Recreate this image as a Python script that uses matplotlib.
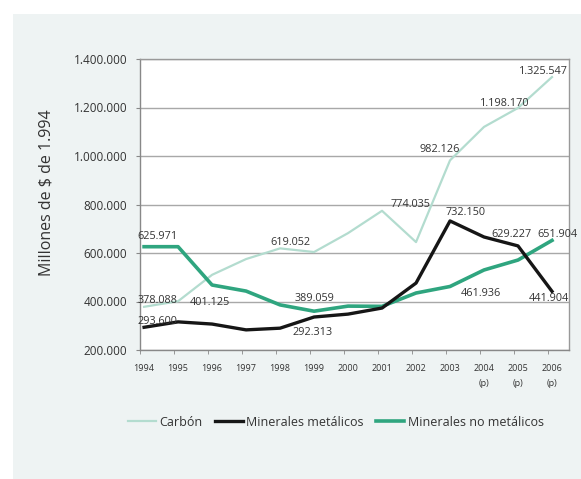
import numpy as np
import matplotlib.pyplot as plt
from matplotlib.patches import Rectangle
from matplotlib.ticker import FuncFormatter, FixedLocator

plt.rcParams['font.family'] = ['Open Sans', 'DejaVu Sans']

# data (millones de $ de 1994)
years = ["1994", "1995", "1996", "1997", "1998", "1999", "2000",
         "2001", "2002", "2003", "2004\n(p)", "2005\n(p)", "2006\n(p)"]
carbon = [378088, 401125, 510000, 575000, 619052, 604000, 682000,
          774035, 645000, 982126, 1120000, 1198170, 1325547]
metalicos = [293600, 316000, 307000, 283000, 290000, 336000, 348000,
             373000, 476000, 732150, 666000, 629227, 441904]
no_metalicos = [625971, 625971, 468000, 443000, 386000, 360000, 381000,
                380000, 435000, 461936, 530000, 571000, 651904]

# value labels: text, x (category index), y (value)
lbl_text = ["625.971", "378.088", "293.600", "401.125", "619.052", "389.059",
            "292.313", "774.035", "732.150", "982.126", "1.198.170",
            "1.325.547", "629.227", "651.904", "461.936", "441.904"]
lbl_x = [0.4, 0.4, 0.4, 1.95, 4.3, 5.0, 4.95, 7.85, 9.45, 8.7, 10.6,
         11.75, 10.8, 12.15, 9.9, 11.9]
lbl_y = [668000, 404000, 318000, 396000, 645000, 412000, 272000, 798000,
         765000, 1025000, 1218000, 1350000, 678000, 678000, 435000, 412000]

fig = plt.figure(figsize=(5.81, 4.79), dpi=100)
fig.patch.set_facecolor("white")
# light panel behind the chart
fig.patches.append(Rectangle((13 / 581, 0), 1, 1 - 14 / 479, transform=fig.transFigure,
                             facecolor="#eef3f3", edgecolor="none", zorder=-1))

ax = fig.add_axes([140 / 581, 1 - 350 / 479, 429 / 581, 291 / 479])
ax.set_facecolor("white")

x = np.arange(len(years))
ax.plot(x, carbon, color="#b3dccf", lw=1.6, label="Carbón", zorder=3)
ax.plot(x, metalicos, color="#161616", lw=2.4, label="Minerales metálicos", zorder=4)
ax.plot(x, no_metalicos, color="#2fa57f", lw=2.6, label="Minerales no metálicos", zorder=3)

for t, xx, yy in zip(lbl_text, lbl_x, lbl_y):
    ax.text(xx, yy, t, ha="center", va="center", fontsize=7.8, color="#333333", zorder=5)

ax.set_xlim(-0.12, 12.5)
ax.set_ylim(200000, 1400000)
ax.set_yticks(np.arange(200000, 1400001, 200000))
ax.yaxis.set_major_formatter(FuncFormatter(lambda v, p: f"{int(v):,}".replace(",", ".")))
ax.grid(axis="y", color="#a8a8a8", lw=1.0)
ax.set_axisbelow(True)

ax.set_xticks(x)
ax.set_xticklabels(years, fontsize=6.5, color="#333333", linespacing=1.9)
ax.tick_params(axis="x", which="major", length=0, pad=10)
ax.xaxis.set_minor_locator(FixedLocator(np.arange(13) - 0.12))
ax.tick_params(axis="x", which="minor", length=3, color="#888888")
ax.tick_params(axis="y", labelsize=8.5, colors="#333333", length=3, color="#888888", pad=6)
for s in ax.spines.values():
    s.set_color("#999999")
    s.set_linewidth(1.0)
ax.spines["bottom"].set_color("#888888")
ax.spines["left"].set_color("#888888")

ax.set_ylabel("Millones de $ de 1.994", fontsize=11.5, color="#333333")
ax.yaxis.set_label_coords(-0.20, 0.54)

fig.legend(loc="center", bbox_to_anchor=(336 / 581, 1 - 422 / 479), ncol=3,
           frameon=False, fontsize=9, handlelength=2.2, columnspacing=1.0,
           handletextpad=0.3, labelcolor="#333333")

fig.savefig("out.png", dpi=100)
